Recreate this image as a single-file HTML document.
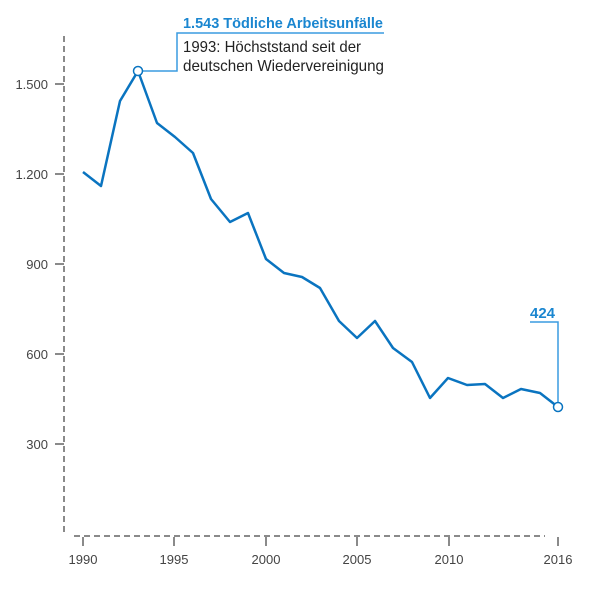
<!DOCTYPE html>
<html><head><meta charset="utf-8"><style>
html,body{margin:0;padding:0;background:#fff;width:600px;height:600px;overflow:hidden}
svg text{font-family:"Liberation Sans",sans-serif}
</style></head><body>
<svg width="600" height="600" viewBox="0 0 600 600">
<g stroke="#8a8a8a" stroke-width="2" fill="none">
<line x1="64" y1="36" x2="64" y2="534" stroke-dasharray="6,4"/>
<line x1="74" y1="536" x2="545" y2="536" stroke-dasharray="6,4"/>
<line x1="55" y1="84" x2="64" y2="84"/><line x1="55" y1="174" x2="64" y2="174"/>
<line x1="55" y1="264" x2="64" y2="264"/><line x1="55" y1="354" x2="64" y2="354"/>
<line x1="55" y1="444" x2="64" y2="444"/>
<line x1="83" y1="537" x2="83" y2="546"/><line x1="174" y1="537" x2="174" y2="546"/>
<line x1="266" y1="537" x2="266" y2="546"/><line x1="357" y1="537" x2="357" y2="546"/>
<line x1="449" y1="537" x2="449" y2="546"/><line x1="558" y1="537" x2="558" y2="546"/>
</g>
<g font-size="13" fill="#444" text-anchor="end">
<text x="48" y="89">1.500</text><text x="48" y="179">1.200</text>
<text x="48" y="269">900</text><text x="48" y="359">600</text><text x="48" y="449">300</text>
</g>
<g font-size="13" fill="#444" text-anchor="middle">
<text x="83" y="564">1990</text><text x="174" y="564">1995</text><text x="266" y="564">2000</text>
<text x="357" y="564">2005</text><text x="449" y="564">2010</text><text x="558" y="564">2016</text>
</g>
<polyline fill="none" stroke="#0a74c0" stroke-width="2.5" stroke-linejoin="round"
points="83,172 101,186 120,101 138,71 157,123 175,137 193,153 211,199 230,222 248,213 266,259 284,273 302,277 320,288 339,321 357,338 375,321 393,348 412,362 430,398 448,378 467,385 485,384 503,398 521,389 540,393 558,407"/>
<g stroke="#3a9be0" stroke-width="1.5" fill="none">
<polyline points="143,71 177,71 177,33 384,33"/>
<polyline points="530,322 558,322 558,402"/>
</g>
<circle cx="138" cy="71" r="4.5" fill="#fff" stroke="#0a74c0" stroke-width="1.5"/>
<circle cx="558" cy="407" r="4.5" fill="#fff" stroke="#0a74c0" stroke-width="1.5"/>
<text x="183" y="28" font-size="15" font-weight="bold" fill="#1a86d0" textLength="200" lengthAdjust="spacingAndGlyphs">1.543 Tödliche Arbeitsunfälle</text>
<text x="183" y="52" font-size="16" fill="#222" textLength="178" lengthAdjust="spacingAndGlyphs">1993: Höchststand seit der</text>
<text x="183" y="71" font-size="16" fill="#222" textLength="201" lengthAdjust="spacingAndGlyphs">deutschen Wiedervereinigung</text>
<text x="530" y="318" font-size="15" font-weight="bold" fill="#1a86d0">424</text>
</svg>
</body></html>
